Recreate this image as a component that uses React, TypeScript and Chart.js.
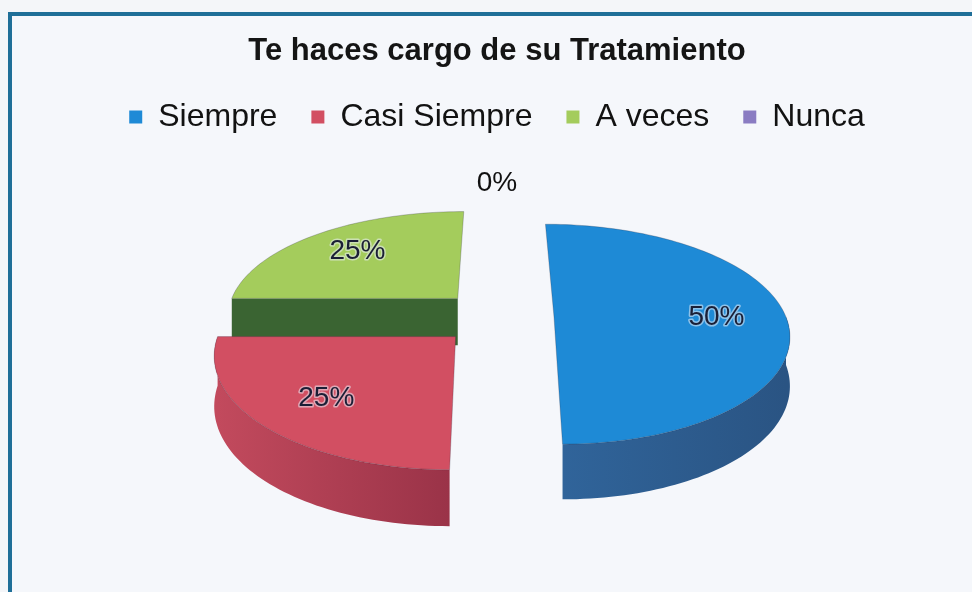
import React, { useEffect, useRef } from "react";
import { Chart, registerables } from "chart.js";

Chart.register(...registerables);

const TITLE = "Te haces cargo de su Tratamiento";
const CATEGORIES = ["Siempre", "Casi Siempre", "A veces", "Nunca"];
const VALUES = [50, 25, 25, 0];
const TOP_COLORS = ["#1e8ad6", "#d24f62", "#a4cc5c", "#8a7cc2"];
const WALL_LIGHT = ["#30649a", "#c24a5d", "#46763c", "#6a5a98"];
const WALL_DARK = ["#2a5483", "#9a3348", "#3a6432", "#5a4c86"];

// projection of the flat pie into a tilted, extruded view
const TILT = 0.474;
const PERSP_Y = 0.074;
const PERSP_X = 0.15;
const DEPTH = 48;

const pie3dPlugin = {
  id: "pie3d",
  beforeDatasetsDraw(chart: any) {
    const meta = chart.getDatasetMeta(0);
    const ctx: CanvasRenderingContext2D = chart.ctx;
    const arcs = meta.data as any[];
    if (!arcs.length) return false;
    const cx = arcs[0].x;
    const cy = arcs[0].y;
    const R = arcs[0].outerRadius;
    const proj = (X: number, Y: number, Z: number) => {
      const k = 1 + (PERSP_X * Y) / R;
      return [cx + X * k, cy + TILT * Y + (PERSP_Y * Y * Y) / R + Z * k];
    };
    const slices = arcs
      .map((el, i) => {
        const a0 = el.startAngle;
        const a1 = el.endAngle;
        const mid = (a0 + a1) / 2;
        const off = el.options.offset || 0;
        return { i, el, a0, a1, mid, ox: Math.cos(mid) * off, oy: Math.sin(mid) * off, r: el.outerRadius };
      })
      .filter((s) => s.a1 - s.a0 > 1e-6)
      .sort((a, b) => a.oy - b.oy);

    const pt = (s: any, a: number, r: number, z: number) =>
      proj(s.ox + r * Math.cos(a), s.oy + r * Math.sin(a), z);

    ctx.save();
    ctx.lineJoin = "round";
    for (const s of slices) {
      const steps = Math.max(8, Math.ceil(((s.a1 - s.a0) / (Math.PI * 2)) * 240));
      // radial faces
      const faces: number[] = [];
      if (Math.cos(s.a0) < -1e-6) faces.push(s.a0);
      if (Math.cos(s.a1) > 1e-6) faces.push(s.a1);
      for (const a of faces) {
        const p1 = pt(s, a, 0, 0);
        const p2 = pt(s, a, s.r, 0);
        const p3 = pt(s, a, s.r, DEPTH);
        const p4 = pt(s, a, 0, DEPTH);
        ctx.beginPath();
        ctx.moveTo(p1[0], p1[1]);
        ctx.lineTo(p2[0], p2[1]);
        ctx.lineTo(p3[0], p3[1]);
        ctx.lineTo(p4[0], p4[1]);
        ctx.closePath();
        ctx.fillStyle = WALL_DARK[s.i];
        ctx.fill();
      }
      // outer curved wall (front part only)
      const segs: [number, number][] = [];
      for (let k = -2; k <= 2; k++) {
        const b0 = Math.max(s.a0, k * 2 * Math.PI);
        const b1 = Math.min(s.a1, k * 2 * Math.PI + Math.PI);
        if (b1 > b0) segs.push([b0, b1]);
      }
      for (const [b0, b1] of segs) {
        const n = Math.max(6, Math.ceil(((b1 - b0) / Math.PI) * 120));
        ctx.beginPath();
        for (let j = 0; j <= n; j++) {
          const a = b0 + ((b1 - b0) * j) / n;
          const p = pt(s, a, s.r, 0);
          if (j === 0) ctx.moveTo(p[0], p[1]);
          else ctx.lineTo(p[0], p[1]);
        }
        for (let j = n; j >= 0; j--) {
          const a = b0 + ((b1 - b0) * j) / n;
          const p = pt(s, a, s.r, DEPTH);
          ctx.lineTo(p[0], p[1]);
        }
        ctx.closePath();
        const pa = pt(s, b0, s.r, 0);
        const pb = pt(s, b1, s.r, 0);
        const g = ctx.createLinearGradient(Math.min(pa[0], pb[0]), 0, Math.max(pa[0], pb[0]), 0);
        const leftIsStart = pa[0] < pb[0];
        g.addColorStop(0, leftIsStart && s.i === 0 ? WALL_DARK[s.i] : WALL_LIGHT[s.i]);
        g.addColorStop(1, leftIsStart && s.i === 0 ? WALL_LIGHT[s.i] : WALL_DARK[s.i]);
        ctx.fillStyle = g;
        ctx.fill();
      }
      // top face
      ctx.beginPath();
      const c = pt(s, 0, 0, 0);
      ctx.moveTo(c[0], c[1]);
      for (let j = 0; j <= steps; j++) {
        const a = s.a0 + ((s.a1 - s.a0) * j) / steps;
        const p = pt(s, a, s.r, 0);
        ctx.lineTo(p[0], p[1]);
      }
      ctx.closePath();
      ctx.fillStyle = TOP_COLORS[s.i];
      ctx.fill();
      ctx.strokeStyle = "rgba(40,40,60,0.25)";
      ctx.lineWidth = 1;
      ctx.stroke();
    }

    // percentage labels
    const total = VALUES.reduce((a, b) => a + b, 0);
    ctx.font = "28px 'Liberation Sans', Arial, sans-serif";
    ctx.textAlign = "center";
    ctx.textBaseline = "middle";
    arcs.forEach((el, i) => {
      const v = VALUES[i];
      const pct = Math.round((v / total) * 100) + "%";
      const mid = (el.startAngle + el.endAngle) / 2;
      const off = el.options.offset || 0;
      const inside = v > 0;
      const rr = inside ? el.outerRadius * 0.7 : el.outerRadius * 1.39;
      const X = Math.cos(mid) * (off + rr);
      const Y = Math.sin(mid) * (off + rr);
      const p = proj(X, Y, 0);
      if (inside) {
        ctx.lineWidth = 3;
        ctx.strokeStyle = "rgba(235,240,250,0.55)";
        ctx.strokeText(pct, p[0], p[1]);
        ctx.fillStyle = "#1b1f36";
      } else {
        ctx.fillStyle = "#111111";
      }
      ctx.fillText(pct, p[0], p[1]);
    });
    ctx.restore();
    return false;
  },
};

export default function App() {
  const ref = useRef<HTMLCanvasElement | null>(null);
  useEffect(() => {
    document.body.style.margin = "0";
    const chart = new Chart(ref.current as HTMLCanvasElement, {
      type: "pie",
      data: {
        labels: CATEGORIES,
        datasets: [
          {
            data: VALUES,
            backgroundColor: TOP_COLORS,
            borderWidth: 0,
            offset: 57,
            radius: 232,
          } as any,
        ],
      },
      options: {
        animation: false,
        responsive: true,
        maintainAspectRatio: false,
        events: [],
        layout: { padding: { left: 22, right: 0, top: 0, bottom: 101 } },
        plugins: {
          title: {
            display: true,
            text: TITLE,
            color: "#151515",
            font: { family: "'Liberation Sans', Arial, sans-serif", size: 31, weight: "bold", lineHeight: 1 },
            padding: { top: 36, bottom: 0 },
          },
          legend: {
            display: true,
            position: "top",
            labels: {
              color: "#121212",
              font: { family: "'Liberation Sans', Arial, sans-serif", size: 32 },
              boxWidth: 13,
              boxHeight: 13,
              padding: 34,
            },
          },
          tooltip: { enabled: false },
        },
      },
      plugins: [pie3dPlugin],
    });
    return () => chart.destroy();
  }, []);

  return (
    <div style={{ position: "fixed", left: 0, top: 0, width: 972, height: 592, background: "#f4f6f9", overflow: "hidden" }}>
      <div
        style={{
          position: "absolute",
          left: 8,
          top: 12,
          width: 1100,
          height: 800,
          borderLeft: "4px solid #1f6f98",
          borderTop: "4px solid #1f6f98",
          background: "#f5f7fb",
        }}
      />
      <div style={{ position: "absolute", left: 0, top: 0, width: 972, height: 592 }}>
        <canvas ref={ref} />
      </div>
    </div>
  );
}
